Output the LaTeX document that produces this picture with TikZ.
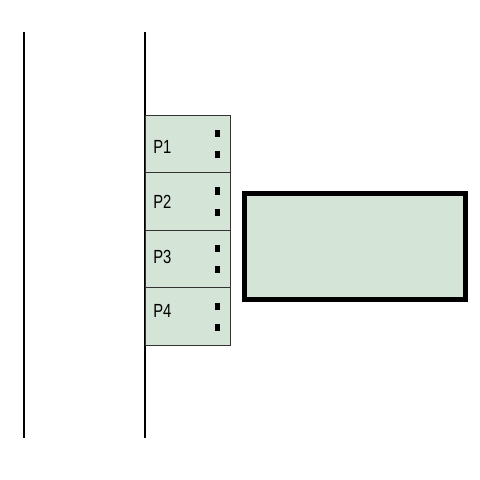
\documentclass[tikz,border=0pt]{standalone}
\usepackage{fontspec}
\setmainfont[FakeStretch=0.78]{Liberation Sans}
\usetikzlibrary{positioning}
\definecolor{boxgreen}{HTML}{D4E4D6}

\begin{document}
\begin{tikzpicture}[
x=0.025cm, y=-0.025cm,
port/.style={rectangle, draw=black!80, line width=0.6pt, fill=boxgreen, minimum width=2.125cm, minimum height=1.44cm, inner sep=0pt, outer sep=0pt},
bus/.style={line width=1pt},
tick/.style={fill=black, minimum width=0.11cm, minimum height=0.18cm, inner sep=0pt}
]
\useasboundingbox (0,0) rectangle (480,480);

% bus lines
\coordinate (L1top) at (24,32);
\coordinate (L1bot) at (24,438);
\coordinate (L2top) at (145,32);
\coordinate (L2bot) at (145,438);
\draw[bus] (L1top) -- (L1bot);
\draw[bus] (L2top) -- (L2bot);

% ports
\node[port, anchor=north west] (P1) at (145,115) {};
\node[port, below=0pt of P1] (P2) {};
\node[port, below=0pt of P2] (P3) {};
\node[port, below=0pt of P3] (P4) {};

\foreach \p/\dy in {P1/-0.08,P2/0,P3/0.04,P4/0.13} {
  \node[anchor=west, font=\fontsize{13.5}{13.5}\selectfont, inner sep=0pt] at ([xshift=0.2cm, yshift=\dy cm]\p.west) {\p};
  \node[tick] at ([xshift=-0.31cm, yshift=-0.46cm]\p.north east) {};
  \node[tick] at ([xshift=-0.31cm, yshift=-0.99cm]\p.north east) {};
}

% device
\node[rectangle, draw=black, line width=3.5pt, fill=boxgreen, minimum width=5.525cm, minimum height=2.65cm, inner sep=0pt, outer sep=0pt, anchor=north west] (dev) at (244.5,193.5) {};

\end{tikzpicture}
\end{document}
